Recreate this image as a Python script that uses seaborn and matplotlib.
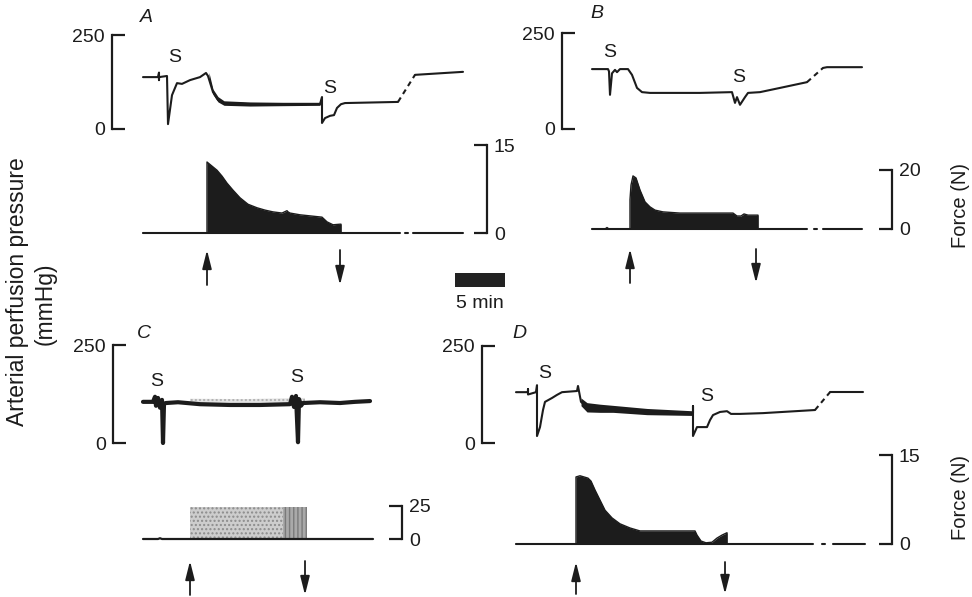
import matplotlib.pyplot as plt
import seaborn as sns

sns.set_theme(style="white")
plt.rcParams["font.family"] = ["Liberation Sans", "DejaVu Sans"]

INK = "#1c1c1c"
FIG_W, FIG_H = 972, 597
PX_PER_MIN = 10          # time scale of all traces (5 min bar = 50 px)
SCALE_MIN = 5

# ---------------------------------------------------------------------------
# Data: time (min from trace start), mmHg, N
# ---------------------------------------------------------------------------

# A
a_press_t = [0, 1.5, 1.6, 1.6, 1.6, 2.4, 2.5, 2.9, 3.4, 3.9, 4.7, 5.7, 6.3, 6.5, 7.0,
             7.5, 8.1, 10.7, 17.7, 17.9, 17.9, 18.2, 18.7, 19.1, 19.4, 19.8, 20.2, 25.5]
a_press_v = [138, 138, 150, 130, 138, 141, 13, 90, 122, 120, 130, 138, 149, 141, 98,
             77, 69, 66, 66, 85, 16, 29, 35, 37, 56, 66, 69, 72]
a_band_t = [6.6, 7.0, 7.5, 8.1, 10.7, 14.0, 17.7]
a_band_lo = [130, 92, 72, 63, 61, 62, 63]
a_band_hi = [150, 106, 86, 75, 72, 71, 71]
a_dash_t, a_dash_v = [25.5, 27.2], [72, 144]
a_tail_t, a_tail_v = [27.2, 32.0], [144, 152]
a_force_t = [0, 6.4, 6.4, 6.9, 7.4, 7.9, 8.4, 9.0, 9.7, 10.5, 11.4, 12.2, 13.0, 13.9,
             14.4, 14.5, 14.7, 15.7, 17.9, 18.4, 19.0, 19.7, 19.8, 19.8]
a_force_v = [0, 0, 12.1, 11.4, 10.7, 9.7, 8.5, 7.3, 6.0, 4.9, 4.3, 3.9, 3.6, 3.4,
             3.8, 3.6, 3.4, 3.1, 2.7, 1.9, 1.4, 1.5, 1.5, 0]
a_force_gap, a_force_end = (25.7, 27.0), 32.0
a_stim = [6.4, 19.7]
a_s_t, a_s_v = [3.2, 18.7], [189, 109]

# B
b_press_t = [0, 1.6, 1.7, 1.8, 2.0, 2.1, 2.3, 2.5, 2.8, 3.6, 4.0, 4.5, 5.0, 5.8, 10.8,
             14.0, 14.3, 14.5, 14.8, 15.3, 15.6, 16.8, 18.8, 21.5]
b_press_v = [156, 156, 150, 89, 145, 148, 154, 148, 156, 156, 141, 107, 96, 94, 94,
             96, 68, 83, 63, 83, 94, 96, 107, 122]
b_dash_t, b_dash_v = [21.5, 23.1], [122, 159]
b_tail_t, b_tail_v = [23.1, 23.5, 27.0], [159, 161, 161]
b_force_t = [0, 1.3, 1.5, 1.7, 3.8, 3.8, 3.9, 4.1, 4.4, 4.8, 5.3, 5.8, 6.3, 7.1, 8.8,
             14.1, 14.5, 14.9, 15.2, 15.6, 16.6, 16.6]
b_force_v = [0, 0, 0.5, 0, 0, 10, 14.9, 18.0, 17.3, 13.2, 9.2, 7.5, 6.4, 5.8, 5.4,
             5.4, 4.4, 4.4, 5.1, 4.7, 4.7, 0]
b_force_gap, b_force_end = (21.5, 23.1), 27.0
b_stim = [3.8, 16.4]
b_s_t, b_s_v = [1.8, 14.7], [200, 133]

# C
c_press_t = [0, 1.0, 1.2, 1.3, 1.5, 1.7, 1.9, 2.0, 2.1, 2.3, 3.5, 5.7, 8.7, 11.7, 14.7,
             14.9, 15.1, 15.3, 15.5, 15.6, 15.8, 16.0, 17.7, 19.7, 21.2, 22.7]
c_press_v = [105, 105, 118, 95, 115, 90, 110, 0, 100, 102, 104, 99, 97, 97, 99,
             118, 92, 120, 2, 112, 95, 102, 104, 102, 105, 107]
c_stip_t = [4.7, 10.0, 16.2]
c_stip_lo = [101, 99, 100]
c_stip_hi = [113, 112, 115]
c_base_t, c_base_v = [0, 1.5, 1.7, 1.9, 23.0], [0, 0, 0.6, 0, 0]
c_block_t, c_block_v = [4.7, 16.4], [24, 24]
c_dense_t = [14.0, 16.4]
c_stim = [4.7, 16.2]
c_s_t, c_s_v = [1.4, 15.4], [156, 166]

# D
d_press_t = [0, 1.2, 1.2, 1.2, 2.0, 2.1, 2.1, 2.4, 2.7, 2.9, 3.6, 4.1, 4.6, 6.1, 6.2,
             6.5, 7.1, 8.4, 9.7, 13.1, 17.7, 17.7, 17.7, 18.1, 19.1, 19.4, 19.7, 20.4,
             21.1, 21.5, 22.4, 24.7, 29.9]
d_press_v = [131, 131, 139, 125, 131, 149, 18, 41, 85, 106, 116, 124, 131, 134, 147,
             106, 93, 90, 88, 80, 77, 95, 18, 41, 41, 59, 72, 80,
             82, 75, 75, 77, 85]
d_band_t = [6.5, 7.1, 8.4, 9.7, 13.1, 17.7]
d_band_lo = [96, 80, 79, 79, 73, 71]
d_band_hi = [116, 104, 100, 97, 89, 83]
d_dash_t, d_dash_v = [29.9, 31.4], [85, 131]
d_tail_t, d_tail_v = [31.4, 34.7], [131, 131]
d_force_t = [0, 6.0, 6.0, 6.4, 7.2, 7.5, 7.9, 8.4, 8.9, 9.6, 10.4, 11.4, 12.4, 17.9,
             18.1, 18.5, 19.0, 19.6, 20.1, 20.6, 21.1, 21.1]
d_force_v = [0, 0, 11.3, 11.5, 11.1, 10.6, 9.1, 7.4, 5.7, 4.4, 3.4, 2.7, 2.2, 2.2,
             1.5, 0.5, 0.2, 0.3, 1.0, 1.5, 1.9, 0]
d_force_gap, d_force_end = (29.7, 31.7), 34.9
d_stim = [6.0, 20.9]
d_s_t, d_s_v = [2.9, 19.1], [180, 119]

PRESS_TICKS = [0, 250]
FS = 14


# ---------------------------------------------------------------------------
# Helpers
# ---------------------------------------------------------------------------

fig = plt.figure(figsize=(FIG_W / 100, FIG_H / 100), dpi=100)


def trace_axes(x0, x1, y_top, y_bot, t_origin, ymax):
    ax = fig.add_axes([x0 / FIG_W, 1 - y_bot / FIG_H,
                       (x1 - x0) / FIG_W, (y_bot - y_top) / FIG_H])
    ax.set_xlim((x0 - t_origin) / PX_PER_MIN, (x1 - t_origin) / PX_PER_MIN)
    ax.set_ylim(0, ymax)
    ax.patch.set_alpha(0)
    ax.grid(False)
    return ax


def bracket(ax, side, ticks):
    for name, sp in ax.spines.items():
        sp.set_visible(name == side)
    ax.spines[side].set_linewidth(1.6)
    ax.spines[side].set_color(INK)
    ax.spines[side].set_capstyle("projecting")
    ax.set_xticks([])
    ax.set_yticks(ticks)
    ax.set_yticklabels([str(t) for t in ticks])
    right = side == "right"
    if right:
        ax.yaxis.tick_right()
    ax.tick_params(axis="y", direction="in", length=9.5, width=1.6,
                   colors=INK, labelsize=FS, pad=5,
                   left=not right, right=right,
                   labelleft=not right, labelright=right)


def line(ax, t, v, lw=1.5, ls="-"):
    sns.lineplot(x=t, y=v, ax=ax, color=INK, lw=lw, linestyle=ls,
                 sort=False, estimator=None, clip_on=False)


def baseline(ax, end, gap=None):
    if gap is None:
        line(ax, [0, end], [0, 0])
        return
    line(ax, [0, gap[0]], [0, 0])
    mid = (gap[0] + gap[1]) / 2
    line(ax, [mid - 0.15, mid + 0.15], [0, 0])
    line(ax, [gap[1], end], [0, 0])


def stim_arrows(ax, times, y_top, y_bot):
    for i, t in enumerate(times):
        head, tail = (y_top, y_bot) if i == 0 else (y_bot, y_top)
        ax.annotate("", xy=(t, 1 - head / FIG_H), xytext=(t, 1 - tail / FIG_H),
                    xycoords=("data", "figure fraction"),
                    textcoords=("data", "figure fraction"),
                    annotation_clip=False,
                    arrowprops=dict(arrowstyle="-|>,head_length=0.8,head_width=0.2",
                                    color=INK, lw=1.3, mutation_scale=14,
                                    shrinkA=0, shrinkB=0))


def s_marks(ax, ts, vs):
    for t, v in zip(ts, vs):
        ax.text(t, v, "S", ha="center", va="center", fontsize=FS, color=INK)


def letter(x, y, s):
    fig.text(x / FIG_W, 1 - y / FIG_H, s, ha="center", va="center",
             fontsize=FS, style="italic", color=INK)


def label(x, y, s, size):
    fig.text(x / FIG_W, 1 - y / FIG_H, s, ha="center", va="center",
             fontsize=size, rotation=90, color=INK)


# ---------------------------------------------------------------------------
# Panel A
# ---------------------------------------------------------------------------

ax = trace_axes(112, 470, 35, 129, 143, 250)
bracket(ax, "left", PRESS_TICKS)
ax.fill_between(a_band_t, a_band_lo, a_band_hi, color=INK, lw=0)
line(ax, a_press_t, a_press_v)
line(ax, a_dash_t, a_dash_v, ls=(0, (2.5, 2)))
line(ax, a_tail_t, a_tail_v)
s_marks(ax, a_s_t, a_s_v)

ax = trace_axes(112, 487, 145, 233, 143, 15)
bracket(ax, "right", [0, 15])
ax.fill_between(a_force_t, 0, a_force_v, color=INK, lw=0)
line(ax, a_force_t, a_force_v, lw=1.0)
baseline(ax, a_force_end, a_force_gap)
stim_arrows(ax, a_stim, 250, 285)

# ---------------------------------------------------------------------------
# Panel B
# ---------------------------------------------------------------------------

ax = trace_axes(562, 880, 33, 129, 592, 250)
bracket(ax, "left", PRESS_TICKS)
line(ax, b_press_t, b_press_v)
line(ax, b_dash_t, b_dash_v, ls=(0, (2.5, 2)))
line(ax, b_tail_t, b_tail_v)
s_marks(ax, b_s_t, b_s_v)

ax = trace_axes(562, 892, 170, 229, 592, 20)
bracket(ax, "right", [0, 20])
ax.fill_between(b_force_t, 0, b_force_v, color=INK, lw=0)
line(ax, b_force_t, b_force_v, lw=1.0)
baseline(ax, b_force_end, b_force_gap)
stim_arrows(ax, b_stim, 249, 283)

# ---------------------------------------------------------------------------
# Panel C
# ---------------------------------------------------------------------------

ax = trace_axes(113, 400, 345, 443, 143, 250)
bracket(ax, "left", PRESS_TICKS)
ax.fill_between(c_stip_t, c_stip_lo, c_stip_hi, facecolor="#e4e4e4",
                hatch="....", edgecolor="#b0b0b0", lw=0)
line(ax, c_press_t, c_press_v, lw=3.0)
s_marks(ax, c_s_t, c_s_v)

ax = trace_axes(113, 402, 506, 539, 143, 25)
bracket(ax, "right", [0, 25])
ax.fill_between(c_block_t, 0, c_block_v, facecolor="#cdcdcd",
                hatch="....", edgecolor="#8c8c8c", lw=0)
ax.fill_between(c_dense_t, 0, [c_block_v[-1]] * 2, facecolor="#a9a9a9",
                hatch="||||", edgecolor="#7a7a7a", lw=0)
line(ax, c_base_t, c_base_v, lw=1.6)
stim_arrows(ax, c_stim, 561, 595)

# ---------------------------------------------------------------------------
# Panel D
# ---------------------------------------------------------------------------

ax = trace_axes(482, 880, 346, 443, 516, 250)
bracket(ax, "left", PRESS_TICKS)
ax.fill_between(d_band_t, d_band_lo, d_band_hi, color=INK, lw=0)
line(ax, d_press_t, d_press_v)
line(ax, d_dash_t, d_dash_v, ls=(0, (2.5, 2)))
line(ax, d_tail_t, d_tail_v)
s_marks(ax, d_s_t, d_s_v)

ax = trace_axes(482, 892, 455, 544, 516, 15)
bracket(ax, "right", [0, 15])
ax.fill_between(d_force_t, 0, d_force_v, color=INK, lw=0)
line(ax, d_force_t, d_force_v, lw=1.0)
baseline(ax, d_force_end, d_force_gap)
stim_arrows(ax, d_stim, 562, 594)

# ---------------------------------------------------------------------------
# Time scale bar, letters and axis titles
# ---------------------------------------------------------------------------

ax = trace_axes(455, 505, 273, 287, 455, 1)
ax.set_xlim(0, SCALE_MIN)
ax.fill_between([0, SCALE_MIN], 0, 1, color="#222222", lw=0)
ax.axis("off")
fig.text(480 / FIG_W, 1 - 304 / FIG_H, f"{SCALE_MIN} min", ha="center",
         va="center", fontsize=FS, color=INK)

letter(146, 18, "A")
letter(597, 14, "B")
letter(144, 333, "C")
letter(519, 333, "D")

label(18, 292, "Arterial perfusion pressure", 16.5)
label(45, 304, "(mmHg)", 16.5)
label(960, 206, "Force (N)", 14.5)
label(960, 498, "Force (N)", 14.5)

fig.savefig("out.png", dpi=100, facecolor="white")
